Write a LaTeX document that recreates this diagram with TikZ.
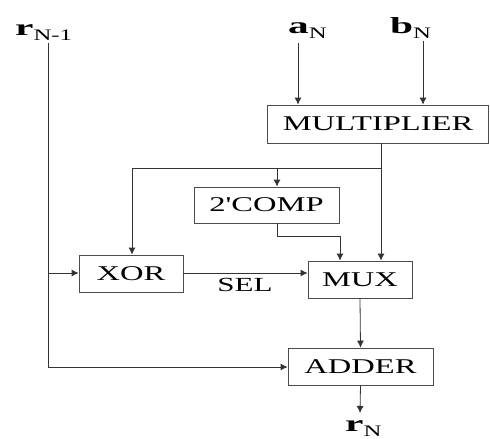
\documentclass[tikz,border=0pt]{standalone}
\usepackage{fontspec}
\setmainfont{Liberation Serif}
\newfontfamily\bxfont{Liberation Serif}[FakeStretch=1.55]
\newfontfamily\lbfont{Liberation Serif}[FakeStretch=1.8]
\usetikzlibrary{arrows.meta}
\newcommand{\lab}[2]{{\lbfont\bfseries\fontsize{23}{23}\selectfont #1}\raisebox{-5pt}{\bxfont\fontsize{16}{16}\selectfont #2}}
\tikzset{
  blk/.style={draw=black!70, line width=0.8pt, rectangle, inner sep=0pt, font=\bxfont\fontsize{21}{21}\selectfont},
  wire/.style={draw=black!80, line width=0.8pt},
  arr/.style={wire, -{Latex[length=7pt,width=7pt]}},
  lbl/.style={inner sep=0pt, anchor=base west}
}
\begin{document}
\begin{tikzpicture}[x=1pt,y=-1pt]
\useasboundingbox (0,0) rectangle (490,439);
% blocks
\node[blk, minimum width=221pt, minimum height=38pt] (mult) at (378,124) {MULTIPLIER};
\node[blk, minimum width=145pt, minimum height=36pt] (comp) at (266.5,205) {2'COMP};
\node[blk, minimum width=104pt, minimum height=37pt] (xor) at (131,273.5) {XOR};
\node[blk, minimum width=104pt, minimum height=37pt] (mux) at (360,279.5) {MUX};
\node[blk, minimum width=145pt, minimum height=37pt] (adder) at (360.5,366.5) {ADDER};
% labels
\node[lbl] (rin) at (15,35) {\lab{r}{N-1}};
\node[lbl] (aN) at (288,34) {\lab{a}{N}};
\node[lbl] (bN) at (390,34) {\lab{b}{N}};
\node[lbl] (rN) at (345,431) {\lab{r}{N}};
\node[inner sep=0pt, font=\bxfont\fontsize{20}{20}\selectfont] (sel) at (245,285) {SEL};
% coordinates
\coordinate (ain) at (298,43);
\coordinate (bin) at (423,41);
\coordinate (rtop) at (48,43);
\coordinate (rbr) at (48,273);
\coordinate (rbot) at (48,367);
\coordinate (mo) at (381,143);
\coordinate (jn) at (381,168);
\coordinate (jc) at (277,168);
\coordinate (jx) at (132,168);
\coordinate (co) at (277,223);
\coordinate (cb1) at (277,236);
\coordinate (cb2) at (340,236);
\coordinate (out) at (360,413);
% connectors
\draw[arr] (ain) -- (ain |- mult.north);
\draw[arr] (bin) -- (bin |- mult.north);
\draw[arr] (mo) -- (mo |- mux.north);
\draw[wire] (jn) -- (jx);
\draw[arr] (jx) -- (jx |- xor.north);
\draw[arr] (jc) -- (jc |- comp.north);
\draw[wire] (co) -- (cb1) -- (cb2);
\draw[arr] (cb2) -- (cb2 |- mux.north);
\draw[arr] (xor.east |- rbr) -- (mux.west |- rbr);
\draw[wire] (rtop) -- (rbot);
\draw[arr] (rbr) -- (xor.west |- rbr);
\draw[arr] (rbot) -- (adder.west |- rbot);
\draw[arr] (mux.south) -- (adder.north);
\draw[arr] (adder.south) -- (out);
\end{tikzpicture}
\end{document}
